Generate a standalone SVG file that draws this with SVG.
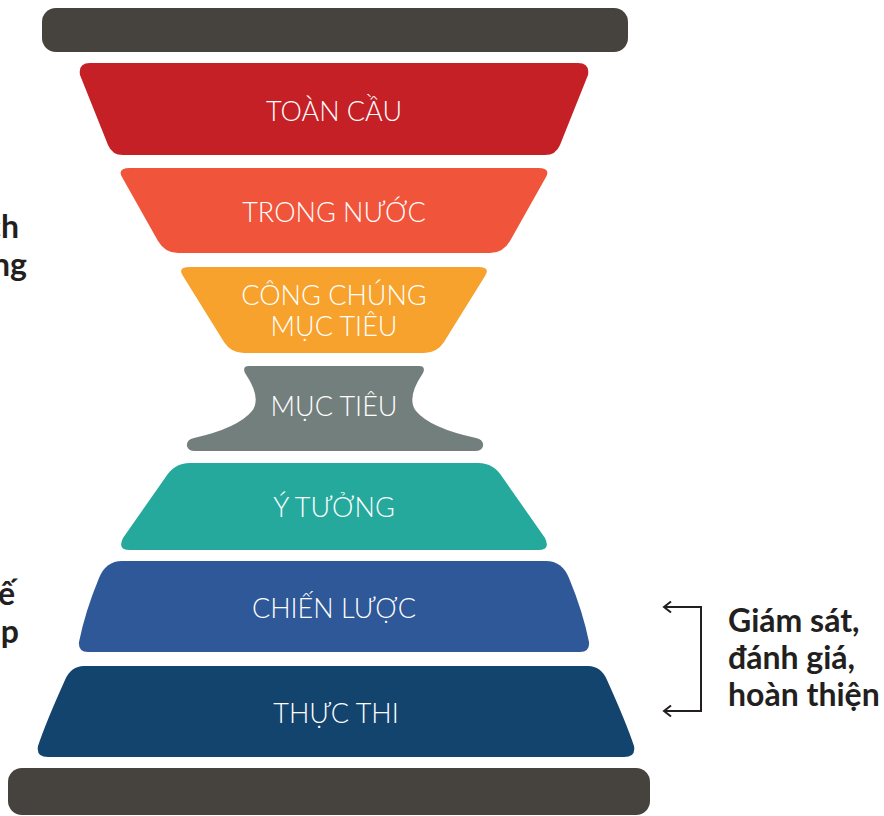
<svg xmlns="http://www.w3.org/2000/svg" width="884" height="816" viewBox="0 0 884 816">
  <defs>
    <style>
      .bar { fill: #46423d; }
      .lbl { font-family: "Lato", "Open Sans", sans-serif; font-weight: 300; font-size: 27px; fill: #ffffff; text-anchor: middle; }
      .side { font-family: "Lato", "Liberation Sans", sans-serif; font-weight: 700; font-size: 32px; fill: #231f20; }
      .conn { fill: none; stroke: #231f20; stroke-width: 2; }
    </style>
    <marker id="chev" markerUnits="userSpaceOnUse" markerWidth="12" markerHeight="14" viewBox="0 0 12 14" refX="10" refY="7" orient="auto-start-reverse">
      <path d="M3,1.5 L10,7 L3,12.5" fill="none" stroke="#231f20" stroke-width="2"/>
    </marker>
  </defs>
  <rect width="884" height="816" fill="#ffffff"/>

  <g id="bar-top"><rect class="bar" x="42" y="8" width="586" height="44" rx="14"/></g>

  <g id="node-toan-cau">
    <path fill="#c52026" d="M90,63 H578 Q590,63 588,75 L560,145 Q556,155 545,155 H123 Q112,155 108,145 L80,75 Q78,63 90,63 Z"/>
    <text class="lbl" x="334" y="121">TOÀN CẦU</text>
  </g>

  <g id="node-trong-nuoc">
    <path fill="#f0543a" d="M130,168 H538 Q551,168 546,177 L510,241 Q503,253 490,253 H178 Q165,253 158,241 L122,177 Q117,168 130,168 Z"/>
    <text class="lbl" x="334" y="222">TRONG NƯỚC</text>
  </g>

  <g id="node-cong-chung">
    <path fill="#f6a22d" d="M190,267 H478 Q491,267 485,276 L444,342 Q437,353 424,353 H244 Q231,353 224,342 L183,276 Q177,267 190,267 Z"/>
    <text class="lbl" x="334" y="305">CÔNG CHÚNG</text>
    <text class="lbl" x="334" y="336">MỤC TIÊU</text>
  </g>

  <g id="node-muc-tieu">
    <path fill="#737f7d" d="M249,366 H419 Q426,366 423,373 Q406,398 416,411 Q430,428 476,438 Q484,440 483,446 Q482,451 475,451 H195 Q188,451 187,446 Q186,440 194,438 Q238,428 252,411 Q262,398 245,373 Q242,366 249,366 Z"/>
    <text class="lbl" x="334" y="416">MỤC TIÊU</text>
  </g>

  <g id="node-y-tuong">
    <path fill="#25a99c" d="M190,463 H478 Q494,463 503,478 L545,538 Q551,550 538,550 H130 Q117,550 123,538 L165,478 Q174,463 190,463 Z"/>
    <text class="lbl" x="334" y="517">Ý TƯỞNG</text>
  </g>

  <g id="node-chien-luoc">
    <path fill="#2e5897" d="M122,561 H546 Q562,561 569,578 Q583,612 589,642 Q590,652 580,652 H88 Q78,652 79,642 Q85,612 99,578 Q106,561 122,561 Z"/>
    <text class="lbl" x="334" y="618">CHIẾN LƯỢC</text>
  </g>

  <g id="node-thuc-thi">
    <path fill="#13446e" d="M84,666 H588 Q601,666 607,680 Q626,722 634,746 Q636,757 624,757 H48 Q36,757 38,746 Q46,722 65,680 Q71,666 84,666 Z"/>
    <text class="lbl" x="336" y="723">THỰC THI</text>
  </g>

  <g id="bar-bottom"><rect class="bar" x="8" y="768" width="642" height="47" rx="14"/></g>

  <g id="left-labels">
    <text class="side" x="19" y="238" text-anchor="end">ch</text>
    <text class="side" x="27" y="276" text-anchor="end">ng</text>
    <text class="side" x="15" y="605" text-anchor="end">ế</text>
    <text class="side" x="19" y="643" text-anchor="end">p</text>
  </g>

  <g id="connectors">
    <path class="conn" d="M664,607 H701 V711 H664" marker-start="url(#chev)" marker-end="url(#chev)"/>
  </g>

  <g id="feedback-label">
    <text class="side" x="728" y="632">Giám sát,</text>
    <text class="side" x="728" y="669">đánh giá,</text>
    <text class="side" x="728" y="706">hoàn thiện</text>
  </g>
</svg>
